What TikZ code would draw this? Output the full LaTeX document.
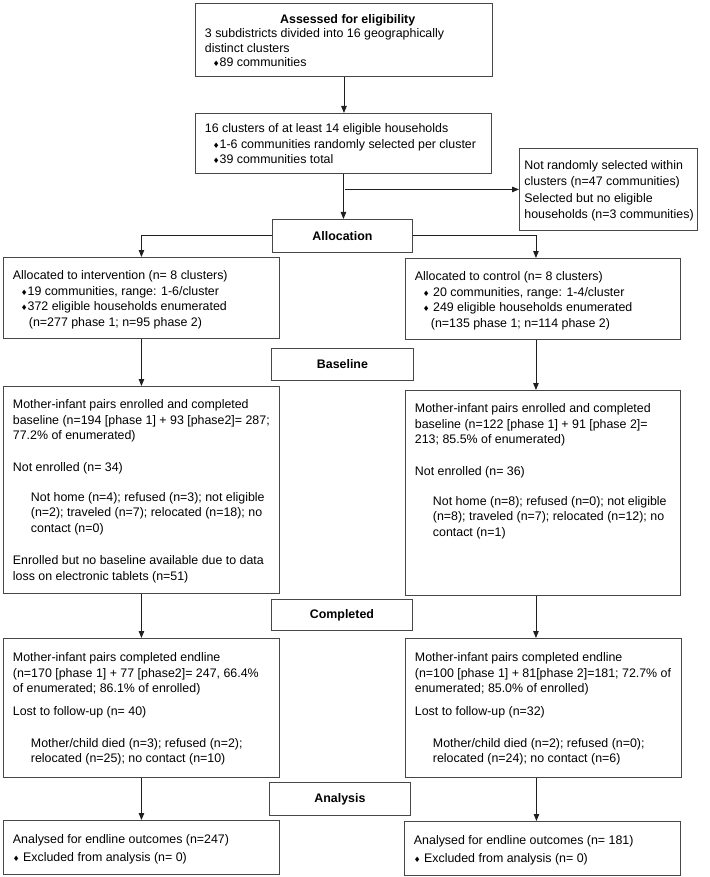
\documentclass[tikz,border=0pt]{standalone}
\usepackage{fontspec}
\setmainfont{Liberation Sans}
\newfontfamily\dejavu{DejaVu Sans}
\usepackage{tikz}
\usetikzlibrary{arrows.meta}

\newcommand{\fs}{\fontsize{12.4pt}{15.7pt}\selectfont}
\newcommand{\dia}{{\dejavu\fontsize{7.5pt}{7.5pt}\selectfont ♦}}
\newcommand{\ind}{\hspace*{18pt}}
% box text: [left space] width, height, top space, lines
\newcommand{\boxbody}[5][9.5]{\hspace*{#1pt}\parbox[c][#3pt][t]{\dimexpr#2pt-#1pt-2pt\relax}{\vspace*{#4pt}\raggedright #5}\hspace*{2pt}}

\tikzset{
  flowbox/.style={draw=black!72, line width=0.9pt, anchor=north west, inner sep=0pt},
  stagebox/.style={draw=black!72, line width=0.9pt, anchor=north west, inner sep=0pt,
    font=\fs\bfseries},
  link/.style={draw=black!88, line width=0.9pt, ->},
}

\begin{document}
\begin{tikzpicture}[x=1pt, y=-1pt, >={Triangle[length=7pt,width=5.5pt]}, every node/.style={font=\fs}]
\useasboundingbox (0,0) rectangle (709,877);

% enrolment
\node[flowbox] (assess) at (195,3) {\boxbody{297}{73}{11}{\fontsize{12.4pt}{14.5pt}\selectfont
  \centerline{\bfseries Assessed for eligibility}
  3 subdistricts divided into 16 geographically\\
  distinct clusters\\
  \hspace*{8pt}\dia89 communities}};
\node[flowbox] (cluster) at (195,113) {\boxbody{296}{60}{10}{%
  16 clusters of at least 14 eligible households\\
  \hspace*{8pt}\dia1-6 communities randomly selected per cluster\\
  \hspace*{8pt}\dia39 communities total}};
\node[flowbox] (notsel) at (519,148) {\boxbody[5]{178}{82}{12}{\fontsize{12.4pt}{16.3pt}\selectfont
  Not randomly selected within\\
  clusters (n=47 communities)\\
  Selected but no eligible\\
  households (n=3 communities)}};
\node[stagebox, minimum width=140pt, minimum height=33pt] (alloc) at (272,219) {Allocation};

% allocation
\node[flowbox] (intalloc) at (3,257) {\boxbody{276}{81}{13}{%
  Allocated to intervention (n= 8 clusters)\\
  \hspace*{8pt}\dia19 communities, range: 1-6/cluster\\
  \hspace*{8pt}\dia372 eligible households enumerated\\
  \hspace*{16pt}(n=277 phase 1; n=95 phase 2)}};
\node[flowbox] (ctlalloc) at (405,258) {\boxbody{275}{81}{13}{%
  Allocated to control (n= 8 clusters)\\
  \hspace*{8pt}\dia{} 20 communities, range: 1-4/cluster\\
  \hspace*{8pt}\dia{} 249 eligible households enumerated\\
  \hspace*{16pt}(n=135 phase 1; n=114 phase 2)}};
\node[stagebox, minimum width=142pt, minimum height=32pt] (baseline) at (271,348) {Baseline};

% baseline
\node[flowbox] (intbase) at (3,386) {\boxbody{276}{207}{13}{%
  Mother-infant pairs enrolled and completed\\
  baseline (n=194 [phase 1] + 93 [phase2]= 287;\\
  77.2\% of enumerated)\\[16pt]
  Not enrolled (n= 34)\\[14pt]
  \ind Not home (n=4); refused (n=3); not eligible\\
  \ind (n=2); traveled (n=7); relocated (n=18); no\\
  \ind contact (n=0)\\[16pt]
  Enrolled but no baseline available due to data\\
  loss on electronic tablets (n=51)}};
\node[flowbox] (ctlbase) at (405,390) {\boxbody{275}{205}{13}{%
  Mother-infant pairs enrolled and completed\\
  baseline (n=122 [phase 1] + 91 [phase 2]=\\
  213; 85.5\% of enumerated)\\[16pt]
  Not enrolled (n= 36)\\[14pt]
  \ind Not home (n=8); refused (n=0); not eligible\\
  \ind (n=8); traveled (n=7); relocated (n=12); no\\
  \ind contact (n=1)}};
\node[stagebox, minimum width=141pt, minimum height=31pt] (completed) at (271,599) {Completed};

% endline
\node[flowbox] (intend) at (3,638) {\boxbody{276}{139}{14}{%
  Mother-infant pairs completed endline\\
  (n=170 [phase 1] + 77 [phase2]= 247, 66.4\%\\
  of enumerated; 86.1\% of enrolled)\\[7pt]
  Lost to follow-up (n= 40)\\[16pt]
  \ind Mother/child died (n=3); refused (n=2);\\
  \ind relocated (n=25); no contact (n=10)}};
\node[flowbox] (ctlend) at (405,638) {\boxbody{276}{139}{14}{%
  Mother-infant pairs completed endline\\
  (n=100 [phase 1] + 81[phase 2]=181; 72.7\% of\\
  enumerated; 85.0\% of enrolled)\\[7pt]
  Lost to follow-up (n=32)\\[16pt]
  \ind Mother/child died (n=2); refused (n=0);\\
  \ind relocated (n=24); no contact (n=6)}};
\node[stagebox, minimum width=141pt, minimum height=33pt] (analysis) at (269,782) {Analysis};

% analysis
\node[flowbox] (intana) at (3,820) {\boxbody{276}{54}{14}{\fontsize{12.4pt}{18pt}\selectfont
  Analysed for endline outcomes (n=247)\\
  \dia{} Excluded from analysis (n= 0)}};
\node[flowbox] (ctlana) at (404,821) {\boxbody{276}{54}{14}{\fontsize{12.4pt}{18pt}\selectfont
  Analysed for endline outcomes (n= 181)\\
  \dia{} Excluded from analysis (n= 0)}};

% connectors
\draw [link] (assess.south) -- (assess.south |- cluster.north);
\draw [link] (cluster.south) -- (cluster.south |- alloc.north);
\draw [link] ([xshift=2pt]cluster.south |- notsel.west) -- (notsel.west);
\draw [link] (alloc.west) -| (intalloc.north);
\draw [link] (alloc.east) -| ([xshift=-7pt]ctlalloc.north);
\draw [link] (intalloc.south) -- (intalloc.south |- intbase.north);
\draw [link] ([xshift=-7pt]ctlalloc.south) -- ([xshift=-7pt]ctlalloc.south |- ctlbase.north);
\draw [link] (intbase.south) -- (intbase.south |- intend.north);
\draw [link] ([xshift=-7pt]ctlbase.south) -- ([xshift=-7pt]ctlbase.south |- ctlend.north);
\draw [link] (intend.south) -- (intend.south |- intana.north);
\draw [link] ([xshift=-7pt]ctlend.south) -- ([xshift=-7pt]ctlend.south |- ctlana.north);
\end{tikzpicture}
\end{document}
